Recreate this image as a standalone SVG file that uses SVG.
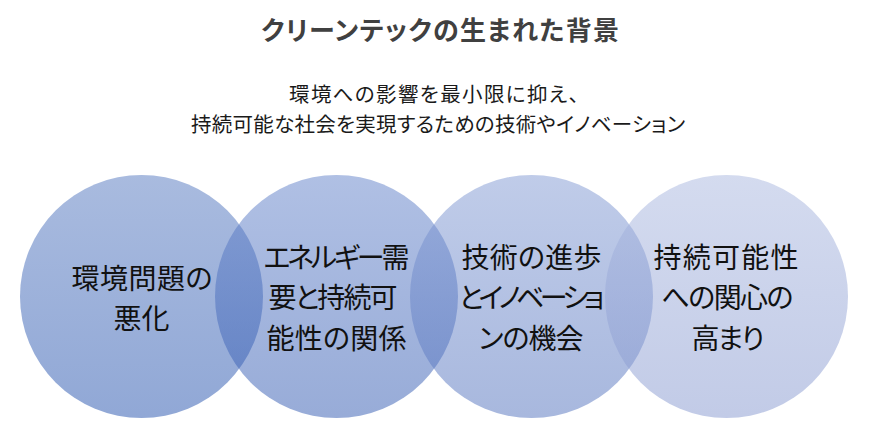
<svg xmlns="http://www.w3.org/2000/svg" width="872" height="432" viewBox="0 0 872 432">
<style>
.t{font-family:"Noto Sans CJK JP","Noto Sans",sans-serif;font-feature-settings:"palt";}
.title{font-size:26px;font-weight:bold;fill:#404040;}
.sub{font-size:20.5px;fill:#1a1a1a;}
.lbl{font-size:28px;fill:#111111;text-anchor:middle;}
.c{fill-opacity:0.5;}
</style>
<defs>
<linearGradient id="g1" x1="0" y1="0" x2="0" y2="1"><stop offset="0" stop-color="#5377BF"/><stop offset="1" stop-color="#2351AD"/></linearGradient>
<linearGradient id="g2" x1="0" y1="0" x2="0" y2="1"><stop offset="0" stop-color="#6181C9"/><stop offset="1" stop-color="#3159B1"/></linearGradient>
<linearGradient id="g3" x1="0" y1="0" x2="0" y2="1"><stop offset="0" stop-color="#8199D3"/><stop offset="1" stop-color="#5171BD"/></linearGradient>
<linearGradient id="g4" x1="0" y1="0" x2="0" y2="1"><stop offset="0" stop-color="#A9B7DF"/><stop offset="1" stop-color="#8597CF"/></linearGradient>
</defs>
<rect width="872" height="432" fill="#ffffff"/>
<g id="title">
<text class="t title" x="440" y="40" text-anchor="middle" textLength="358">クリーンテックの生まれた背景</text>
</g>
<g id="subtitle">
<text class="t sub" x="289" y="101.5" textLength="290">環境への影響を最小限に抑え、</text>
<text class="t sub" x="191" y="132" textLength="494">持続可能な社会を実現するための技術やイノベーション</text>
</g>
<g id="connectors"></g>
<g id="node1">
<circle class="c" cx="141.5" cy="296.5" r="121.5" fill="url(#g1)"/>
</g>
<g id="node2">
<circle class="c" cx="336.5" cy="296.5" r="121.5" fill="url(#g2)"/>
</g>
<g id="node3">
<circle class="c" cx="531.5" cy="296.5" r="121.5" fill="url(#g3)"/>
</g>
<g id="node4">
<circle class="c" cx="726.5" cy="296.5" r="121.5" fill="url(#g4)"/>
</g>
<g id="labels">
<text class="t lbl" x="142" y="288.5" textLength="141">環境問題の</text>
<text class="t lbl" x="141.5" y="329">悪化</text>
<text class="t lbl" x="336.5" y="267.5" textLength="146">エネルギー需</text>
<text class="t lbl" x="333" y="308" textLength="129">要と持続可</text>
<text class="t lbl" x="336.5" y="348.5" textLength="140">能性の関係</text>
<text class="t lbl" x="531.5" y="267.5" textLength="140">技術の進歩</text>
<text class="t lbl" x="531.5" y="308" textLength="146">とイノベーショ</text>
<text class="t lbl" x="531" y="349" textLength="105">ンの機会</text>
<text class="t lbl" x="726" y="267.5" textLength="145">持続可能性</text>
<text class="t lbl" x="727.5" y="308" textLength="132">への関心の</text>
<text class="t lbl" x="728" y="349" textLength="73">高まり</text>
</g>
</svg>
